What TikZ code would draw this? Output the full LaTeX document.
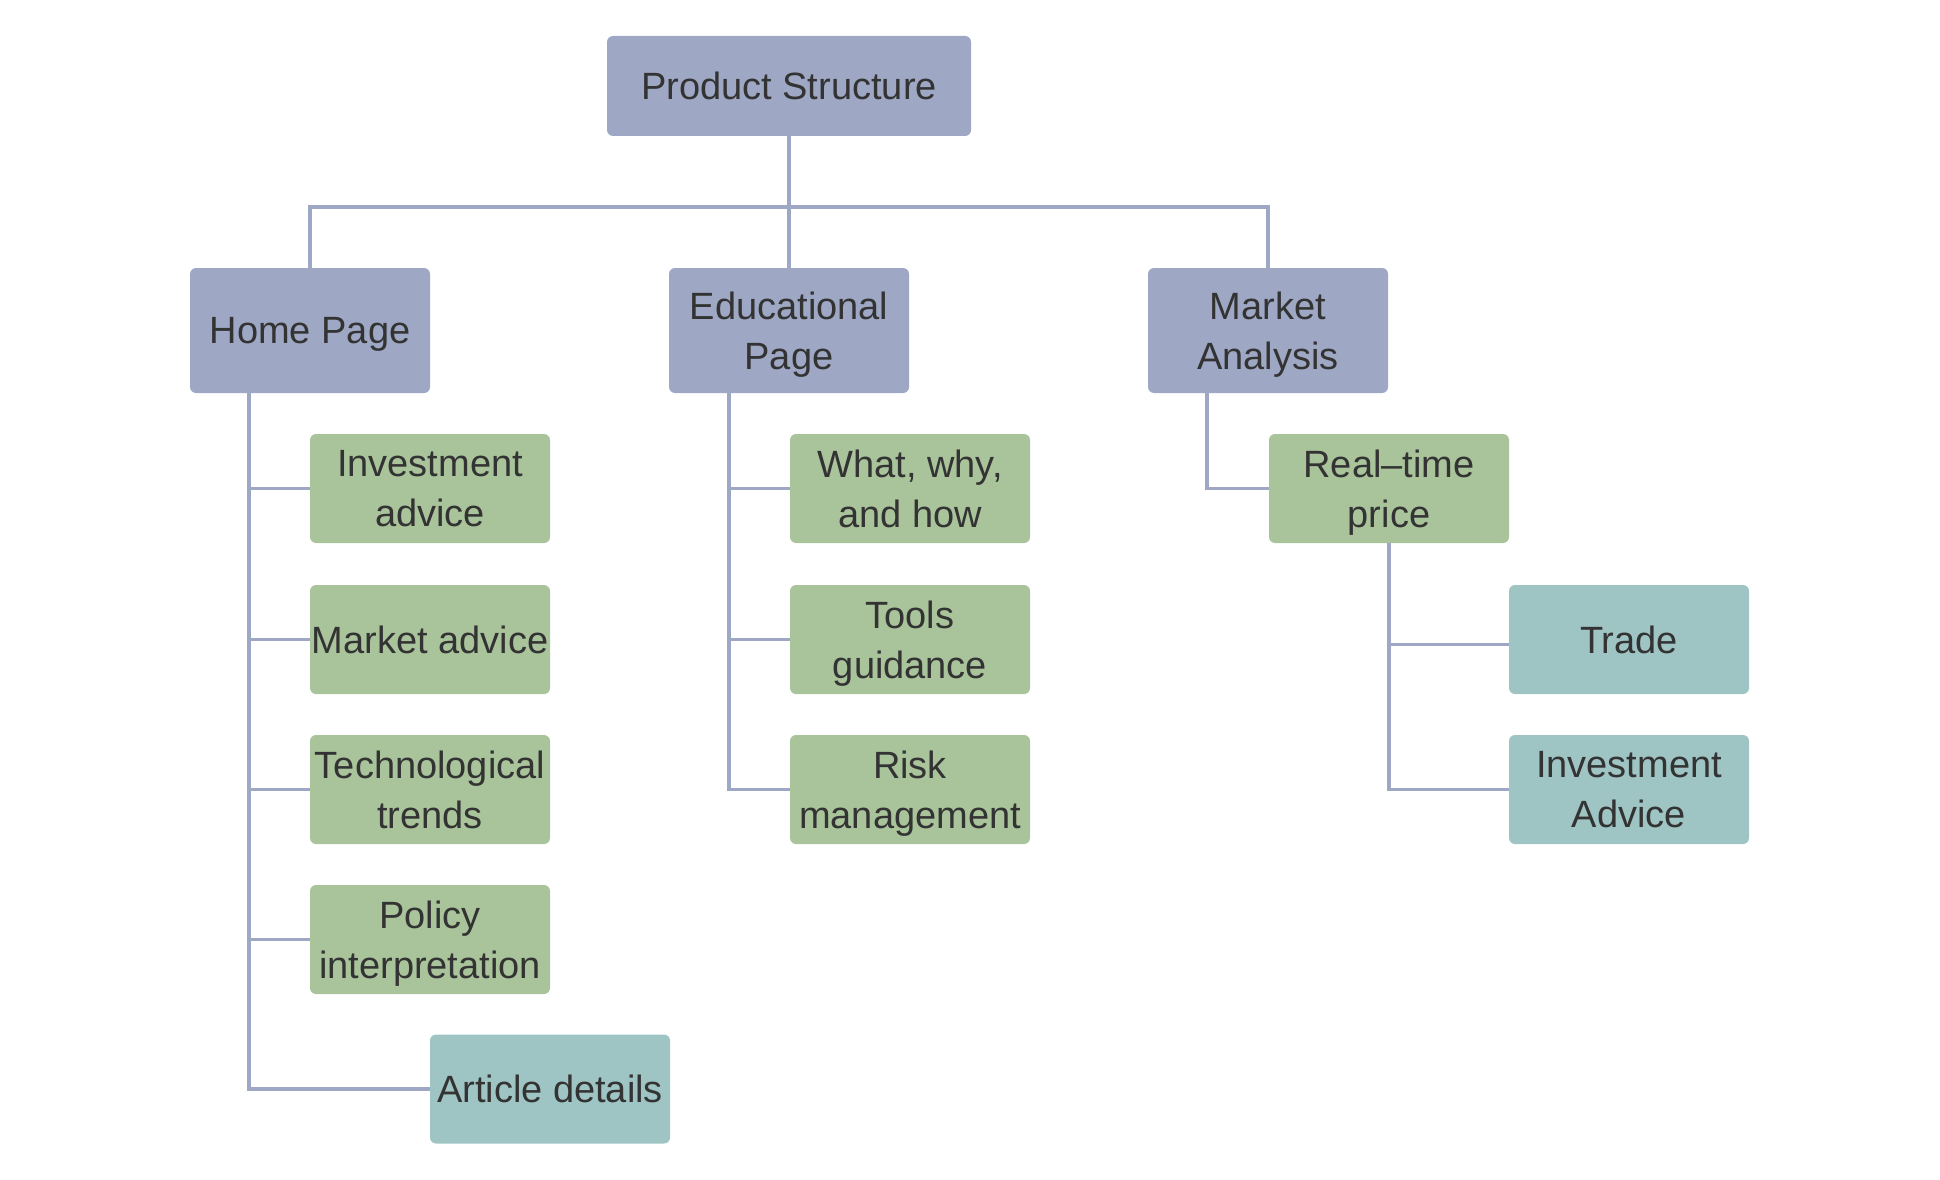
\documentclass[tikz,border=0pt]{standalone}
\usepackage{fontspec}
\setmainfont{Liberation Sans}
\definecolor{lineC}{HTML}{9EA7C3}
\definecolor{blueC}{HTML}{9EA8C4}
\definecolor{greenC}{HTML}{A9C49B}
\definecolor{tealC}{HTML}{9EC4C4}
\definecolor{textC}{HTML}{333333}
\tikzset{
  box/.style={rectangle, rounded corners=6pt, inner sep=0pt, align=center,
    text=textC, font=\fontsize{38}{50}\selectfont, minimum width=240pt,
    text depth=0pt},
  topbox/.style={box, fill=blueC, minimum height=125pt},
  rootbox/.style={box, fill=blueC, minimum width=364pt, minimum height=100pt},
  leafbox/.style={box, fill=greenC, minimum height=109pt},
  endbox/.style={box, fill=tealC, minimum height=109pt},
  conn/.style={draw=lineC, line width=3.1pt}
}
\begin{document}
\begin{tikzpicture}[x=1pt,y=-1pt]
\useasboundingbox (0,0) rectangle (1940,1180);
\node[rootbox] (ps) at (789,86) {Product Structure};
\node[topbox] (home) at (310,330.5) {Home Page};
\node[topbox] (edu) at (789,330.5) {Educational\\Page};
\node[topbox] (mkt) at (1268,330.5) {Market\\Analysis};
\coordinate (bus) at (789,207);

\node[leafbox] (ia) at (430,488.5) {Investment\\advice};
\node[leafbox] (ma) at (430,639.5) {Market advice};
\node[leafbox] (tt) at (430,789.5) {Technological\\trends};
\node[leafbox] (pi) at (430,939.5) {Policy\\interpretation};
\node[endbox] (ad) at (550,1089) {Article details};

\node[leafbox] (w) at (910,488.5) {What, why,\\and how};
\node[leafbox] (tg) at (910,639.5) {Tools\\guidance};
\node[leafbox] (rm) at (910,789.5) {Risk\\management};

\node[leafbox] (rt) at (1389,488.5) {Real–time\\price};
\node[endbox] (tr) at (1629,639.5) {Trade};
\node[endbox] (iv) at (1629,789.5) {Investment\\Advice};

\draw[conn] (ps.south) -- (edu.north);
\draw[conn] (home.north) |- (bus) -| (mkt.north);

\draw[conn] ([xshift=-61pt]home.south) |- (ad.west);
\draw[conn] ([xshift=-61pt]home.south) |- (ia.west);
\draw[conn] ([xshift=-61pt]home.south) |- (ma.west);
\draw[conn] ([xshift=-61pt]home.south) |- (tt.west);
\draw[conn] ([xshift=-61pt]home.south) |- (pi.west);

\draw[conn] ([xshift=-60pt]edu.south) |- (rm.west);
\draw[conn] ([xshift=-60pt]edu.south) |- (w.west);
\draw[conn] ([xshift=-60pt]edu.south) |- (tg.west);

\draw[conn] ([xshift=-61pt]mkt.south) |- (rt.west);
\draw[conn] (rt.south) |- ([yshift=-5pt]tr.west);
\draw[conn] (rt.south) |- (iv.west);
\end{tikzpicture}
\end{document}
